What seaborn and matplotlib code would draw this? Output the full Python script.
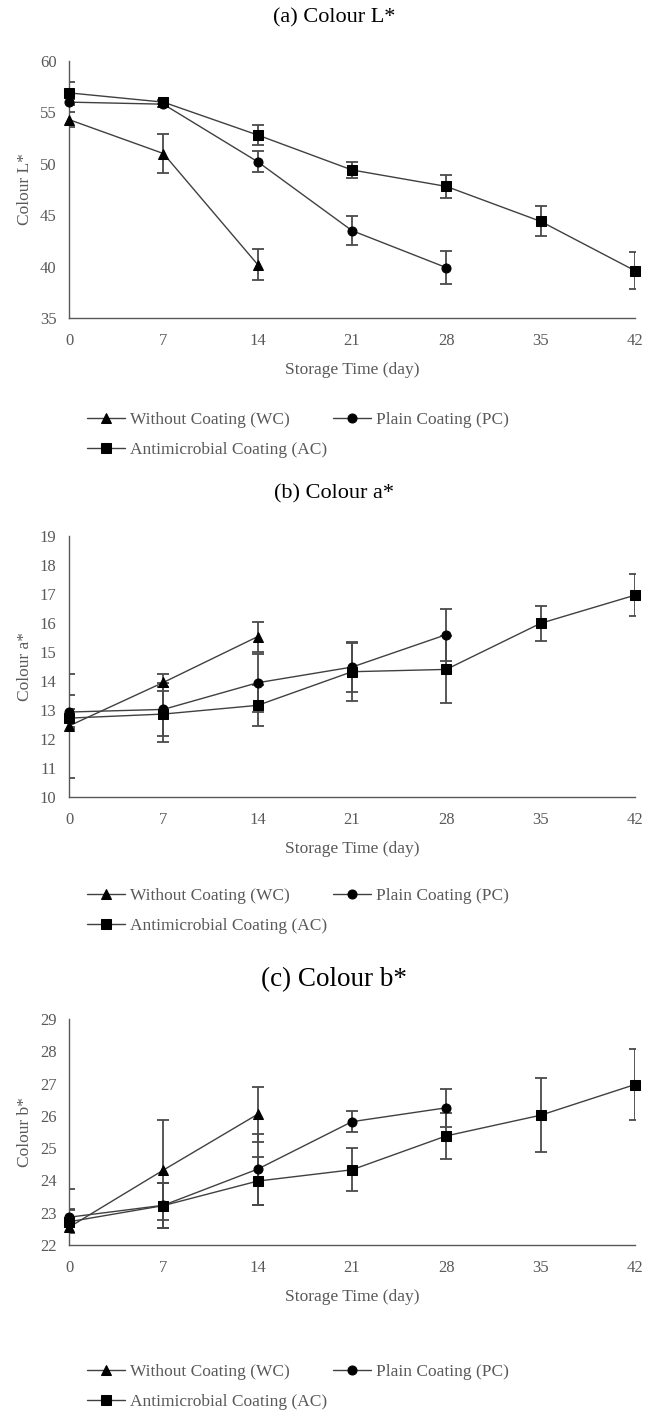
import numpy as np
import matplotlib
matplotlib.use("Agg")
import matplotlib.pyplot as plt
import seaborn as sns

# --- data ---
days = [0, 7, 14, 21, 28, 35, 42]
series_names = ["Without Coating (WC)", "Plain Coating (PC)", "Antimicrobial Coating (AC)"]

# (a) Colour L*
L_wc = [54.3, 51.0, 40.2]
L_wc_err = [0.7, 1.9, 1.5]
L_pc = [56.0, 55.8, 50.2, 43.5, 39.9]
L_pc_err = [0.3, 0.3, 1.0, 1.4, 1.6]
L_ac = [56.9, 56.0, 52.8, 49.4, 47.8, 44.4, 39.6]
L_ac_err = [1.1, 0.2, 1.0, 0.75, 1.15, 1.45, 1.8]

# (b) Colour a*
a_wc = [12.45, 13.95, 15.53]
a_wc_err = [1.8, 0.3, 0.52]
a_pc = [12.93, 13.02, 13.94, 14.48, 15.6]
a_pc_err = [0.6, 0.9, 1.0, 0.85, 0.9]
a_ac = [12.72, 12.86, 13.16, 14.32, 14.4, 15.99, 16.96]
a_ac_err = [0.3, 0.95, 0.7, 1.0, 1.15, 0.6, 0.72]

# (c) Colour b*
b_wc = [22.55, 24.32, 26.05]
b_wc_err = [1.2, 1.55, 0.85]
b_pc = [22.86, 23.23, 24.35, 25.82, 26.25]
b_pc_err = [0.25, 0.7, 1.1, 0.33, 0.58]
b_ac = [22.72, 23.22, 23.98, 24.33, 25.38, 26.02, 26.97]
b_ac_err = [0.35, 0.7, 0.75, 0.66, 0.72, 1.15, 1.1]

panels = [
    ("(a) Colour L*", "Colour L*", [L_wc, L_pc, L_ac], [L_wc_err, L_pc_err, L_ac_err], (35, 60), 5),
    ("(b) Colour a*", "Colour a*", [a_wc, a_pc, a_ac], [a_wc_err, a_pc_err, a_ac_err], (10, 19), 1),
    ("(c) Colour b*", "Colour b*", [b_wc, b_pc, b_ac], [b_wc_err, b_pc_err, b_ac_err], (22, 29), 1),
]

sns.set_theme(style="white")
plt.rcParams["font.family"] = ["Liberation Serif", "DejaVu Serif"]

fig = plt.figure(figsize=(6.46, 14.12), dpi=100)
W, H = 646, 1412

# axes boxes in pixels: left, right, top, bottom
boxes = [(69, 635, 61, 318), (69, 635, 536, 797), (69, 635, 1019, 1245)]
title_y = [18, 494, 980]
title_size = [16, 16, 19.5]
legend_y = [405, 881, 1357]
markers = ["^", "o", "s"]
msizes = [[9, 10, 10], [8.5, 10, 8], [9, 10, 11]]

line_col = "#404040"
gray_txt = "#595959"

for i, (title, ylab, vals, errs, ylim, step) in enumerate(panels):
    l, r, t, b = boxes[i]
    ax = fig.add_axes([l / W, 1 - b / H, (r - l) / W, (b - t) / H])
    for j in range(3):
        xs = days[:len(vals[j])]
        ax.errorbar(xs, vals[j], yerr=errs[j], fmt="none", ecolor="#4a4a4a",
                    elinewidth=1.3, capsize=4, capthick=1.3, zorder=2)
        sns.lineplot(x=xs, y=vals[j], ax=ax, color=line_col, linewidth=1.0,
                     marker=markers[j], markersize=msizes[i][j],
                     markerfacecolor="black", markeredgecolor="black",
                     label=series_names[j], zorder=3, clip_on=False)
    ax.set_xlim(0, 42)
    ax.set_ylim(*ylim)
    ax.set_xticks(days)
    ax.set_yticks(np.arange(ylim[0], ylim[1] + 0.1, step))
    ax.tick_params(axis="x", length=0, labelsize=12, colors=gray_txt, pad=11)
    ax.tick_params(axis="y", length=0, labelsize=12, colors=gray_txt, pad=9)
    for sp in ["top", "right"]:
        ax.spines[sp].set_visible(False)
    for sp in ["left", "bottom"]:
        ax.spines[sp].set_color("#595959")
        ax.spines[sp].set_linewidth(1.0)
    ax.set_xlabel("Storage Time (day)", fontsize=12.5, color=gray_txt, labelpad=9)
    ax.set_ylabel(ylab, fontsize=12.5, color=gray_txt, labelpad=5)
    fig.text(0.517, 1 - title_y[i] / H, title, ha="center", va="center",
             fontsize=title_size[i], color="black")

    handles, labels = ax.get_legend_handles_labels()
    for h in handles:
        h.set_markersize(6.5)
    order = [0, 2, 1]
    leg = ax.legend([handles[k] for k in order], [labels[k] for k in order],
                    loc="upper left", ncol=2, frameon=False,
                    bbox_to_anchor=(80 / W, 1 - legend_y[i] / H),
                    bbox_transform=fig.transFigure, fontsize=12.5,
                    handlelength=2.2, handletextpad=0.3, columnspacing=0.3,
                    labelspacing=0.8, borderaxespad=0)
    for txt in leg.get_texts():
        txt.set_color(gray_txt)

fig.savefig("out.png", dpi=100)
